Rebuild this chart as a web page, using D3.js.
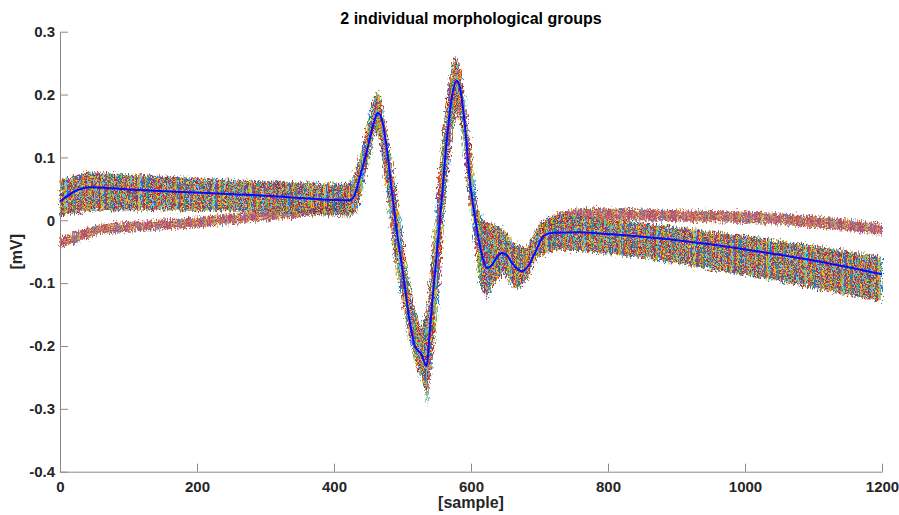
<!DOCTYPE html>
<html lang="en">
<head>
    <meta charset="UTF-8">
    <script src="https://d3js.org/d3.v7.min.js"></script>
    <title>2 individual morphological groups</title>
    <style>
        body { margin: 0; background: #fff; }
        text { font-family: "Liberation Sans", Arial, Helvetica, sans-serif; }
    </style>
</head>
<body>
<div id="chart"></div>
<script>
    // mean beat (blue line): sample -> mV
    const meanSample = [0, 20, 44, 100, 200, 300, 423, 430, 438, 448, 458, 464, 470, 477, 484, 491, 501, 509, 518, 528, 535,
        541, 546, 552, 557, 564, 572, 579, 584, 589, 599, 608, 616, 623, 630, 638, 645, 652, 660, 674, 684, 695, 706,
        720, 759, 800, 910, 1022, 1100, 1200]
    const meanMV = [0.030, 0.045, 0.0525, 0.049, 0.044, 0.039, 0.032, 0.040, 0.070, 0.110, 0.155, 0.171, 0.160, 0.115, 0.050,
        -0.012, -0.086, -0.150, -0.200, -0.214, -0.232, -0.160, -0.100, -0.030, 0.030, 0.120, 0.195, 0.222, 0.210, 0.173,
        0.057, -0.010, -0.055, -0.076, -0.072, -0.058, -0.052, -0.055, -0.068, -0.081, -0.072, -0.048, -0.025,
        -0.020, -0.019, -0.022, -0.033, -0.050, -0.064, -0.086]

    // group 1 (big bundle of beats): upper and lower edge of the bundle
    const grp1UpperSample = [0, 44, 100, 200, 300, 415, 425, 436, 446, 455, 462, 468, 474, 484, 497, 508, 518, 527, 536, 539,
        550, 557, 565, 572, 578, 585, 591, 599, 608, 616, 630, 645, 662, 681, 696, 710, 735, 760, 850, 910, 1022, 1100, 1200]
    const grp1UpperMV = [0.065, 0.077, 0.073, 0.067, 0.062, 0.058, 0.060, 0.095, 0.140, 0.184, 0.205, 0.198, 0.160, 0.094,
        0.000, -0.090, -0.140, -0.172, -0.140, -0.100, 0.030, 0.120, 0.200, 0.247, 0.262, 0.240, 0.190, 0.120, 0.030,
        0.000, -0.006, -0.012, -0.035, -0.045, -0.012, 0.004, 0.010, 0.006, -0.004, -0.012, -0.028, -0.040, -0.058]
    const grp1LowerSample = [0, 44, 150, 300, 423, 433, 441, 448, 455, 462, 467, 474, 479, 487, 499, 511, 521, 529, 533, 536,
        539, 545, 552, 562, 567, 574, 581, 587, 593, 599, 606, 613, 623, 633, 647, 657, 667, 681, 696, 720, 759, 850,
        1022, 1100, 1200]
    const grp1LowerMV = [0.006, 0.015, 0.016, 0.013, 0.006, 0.012, 0.045, 0.078, 0.118, 0.143, 0.125, 0.067, 0.030, -0.049,
        -0.129, -0.193, -0.235, -0.258, -0.270, -0.298, -0.262, -0.208, -0.129, 0.030, 0.078, 0.147, 0.175, 0.140, 0.070,
        0.020, -0.040, -0.102, -0.124, -0.102, -0.083, -0.100, -0.110, -0.097, -0.060, -0.049, -0.049, -0.060, -0.092,
        -0.108, -0.130]

    // group 2 (few beats): lower strand before the QRS, upper strand after it
    const grp2LeftSample = [0, 20, 58, 131, 204, 277, 350, 400, 425]
    const grp2LeftUpper = [-0.028, -0.019, -0.006, 0.000, 0.005, 0.013, 0.021, 0.028, 0.032]
    const grp2LeftLower = [-0.044, -0.037, -0.022, -0.016, -0.011, -0.003, 0.005, 0.012, 0.018]
    const grp2RightSample = [700, 730, 763, 910, 1022, 1100, 1200]
    const grp2RightUpper = [-0.004, 0.014, 0.020, 0.016, 0.013, 0.007, -0.005]
    const grp2RightLower = [-0.018, -0.004, 0.002, -0.002, -0.005, -0.011, -0.023]

    const xTicks = [0, 200, 400, 600, 800, 1000, 1200]
    const yTicks = [-0.4, -0.3, -0.2, -0.1, 0, 0.1, 0.2, 0.3]

    const W = 899, H = 515
    const padLeft = 60, padRight = 882, padTop = 31.7, padBottom = 471.7
    const palette = ["#0072BD", "#D95319", "#EDB120", "#7E2F8E", "#77AC30", "#4DBEEE", "#A2142F"]
    const stripeOrder = [1, 0, 2, 6, 5, 3, 1, 4, 0, 2, 1, 6, 5, 4, 3, 1, 2, 0, 6, 4, 5, 1, 3, 2, 0, 6, 1, 4, 2, 5, 0, 3,
        1, 6, 2, 4, 0]
    // the second group is mostly warm coloured
    const stripeOrder2 = [6, 1, 3, 6, 4, 1, 6, 2, 3, 1, 6, 0, 1, 6, 3, 1, 4, 6, 1, 3, 6]

    let svg = d3.select("#chart").append("svg")
        .attr("width", W)
        .attr("height", H)

    let x = d3.scaleLinear().domain([0, 1200]).range([padLeft, padRight])
    let y = d3.scaleLinear().domain([-0.4, 0.3]).range([padBottom, padTop])

    // texture for the bundles of thin coloured traces
    let defs = svg.append("defs")

    function stripes(id, order) {
        let pat = defs.append("pattern")
            .attr("id", id)
            .attr("patternUnits", "userSpaceOnUse")
            .attr("width", order.length)
            .attr("height", 10)
        pat.selectAll("rect")
            .data(order)
            .join("rect")
            .attr("x", (d, i) => i)
            .attr("y", 0)
            .attr("width", 1)
            .attr("height", 10)
            .attr("fill", d => palette[d])
    }
    stripes("traces", stripeOrder)
    stripes("traces2", stripeOrder2)

    let filt = defs.append("filter")
        .attr("id", "jitter")
        .attr("filterUnits", "userSpaceOnUse")
        .attr("x", 0).attr("y", 0).attr("width", W).attr("height", H)
    filt.append("feTurbulence")
        .attr("type", "fractalNoise")
        .attr("baseFrequency", "0.8 0.3")
        .attr("numOctaves", 2)
        .attr("seed", 4)
        .attr("result", "n")
    filt.append("feDisplacementMap")
        .attr("in", "SourceGraphic")
        .attr("in2", "n")
        .attr("scale", 10)
        .attr("xChannelSelector", "R")
        .attr("yChannelSelector", "G")
        .attr("result", "d")
    filt.append("feGaussianBlur")
        .attr("in", "d")
        .attr("stdDeviation", "0.45 0.3")

    // axes (MATLAB style: ticks inside, no box)
    let xAxis = d3.axisBottom(x)
        .tickValues(xTicks)
        .tickSizeInner(-8)
        .tickSizeOuter(0)
        .tickPadding(10)
        .tickFormat(d => String(d))
    let yAxis = d3.axisLeft(y)
        .tickValues(yTicks)
        .tickSizeInner(-8)
        .tickSizeOuter(0)
        .tickPadding(5)
        .tickFormat(d => String(+d.toFixed(1)))

    let gx = svg.append("g").attr("transform", `translate(0,${padBottom})`).call(xAxis)
    let gy = svg.append("g").attr("transform", `translate(${padLeft},0)`).call(yAxis)
    for (const g of [gx, gy]) {
        g.select(".domain").attr("stroke", "#8a8a8a")
        g.selectAll(".tick line").attr("stroke", "#8a8a8a")
        g.selectAll(".tick text")
            .attr("fill", "#262626")
            .attr("font-size", 15)
            .attr("font-weight", "bold")
            .attr("font-family", "'Liberation Sans', Arial, sans-serif")
    }

    // bundles
    let poly = d3.line().x(d => x(d[0])).y(d => y(d[1]))

    function bandPoints(xsUp, up, xsLo, lo) {
        let pts = xsUp.map((s, i) => [s, up[i]])
        let back = xsLo.map((s, i) => [s, lo[i]]).reverse()
        return pts.concat(back)
    }

    let data = svg.append("g")

    data.append("path")
        .attr("d", poly(bandPoints(grp2LeftSample, grp2LeftUpper, grp2LeftSample, grp2LeftLower)) + "Z")
        .attr("fill", "url(#traces2)")
        .attr("opacity", 0.75)
        .attr("filter", "url(#jitter)")
    data.append("path")
        .attr("d", poly(bandPoints(grp2RightSample, grp2RightUpper, grp2RightSample, grp2RightLower)) + "Z")
        .attr("fill", "url(#traces2)")
        .attr("opacity", 0.75)
        .attr("filter", "url(#jitter)")
    data.append("path")
        .attr("d", poly(bandPoints(grp1UpperSample, grp1UpperMV, grp1LowerSample, grp1LowerMV)) + "Z")
        .attr("fill", "url(#traces)")
        .attr("opacity", 0.9)
        .attr("filter", "url(#jitter)")

    // mean beat
    let meanLine = d3.line()
        .x(d => x(d[0]))
        .y(d => y(d[1]))
        .curve(d3.curveMonotoneX)
    data.append("path")
        .attr("d", meanLine(meanSample.map((s, i) => [s, meanMV[i]])))
        .attr("fill", "none")
        .attr("stroke", "#0a0aff")
        .attr("stroke-width", 2)

    // labels
    svg.append("text")
        .attr("x", (padLeft + padRight) / 2)
        .attr("y", 24)
        .attr("text-anchor", "middle")
        .attr("font-size", 16)
        .attr("font-weight", "bold")
        .attr("fill", "#000")
        .text("2 individual morphological groups")
    svg.append("text")
        .attr("x", (padLeft + padRight) / 2)
        .attr("y", 508)
        .attr("text-anchor", "middle")
        .attr("font-size", 16)
        .attr("font-weight", "bold")
        .attr("fill", "#262626")
        .text("[sample]")
    svg.append("text")
        .attr("transform", `translate(22,${(padTop + padBottom) / 2}) rotate(-90)`)
        .attr("text-anchor", "middle")
        .attr("font-size", 16)
        .attr("font-weight", "bold")
        .attr("fill", "#262626")
        .text("[mV]")
</script>
</body>
</html>
